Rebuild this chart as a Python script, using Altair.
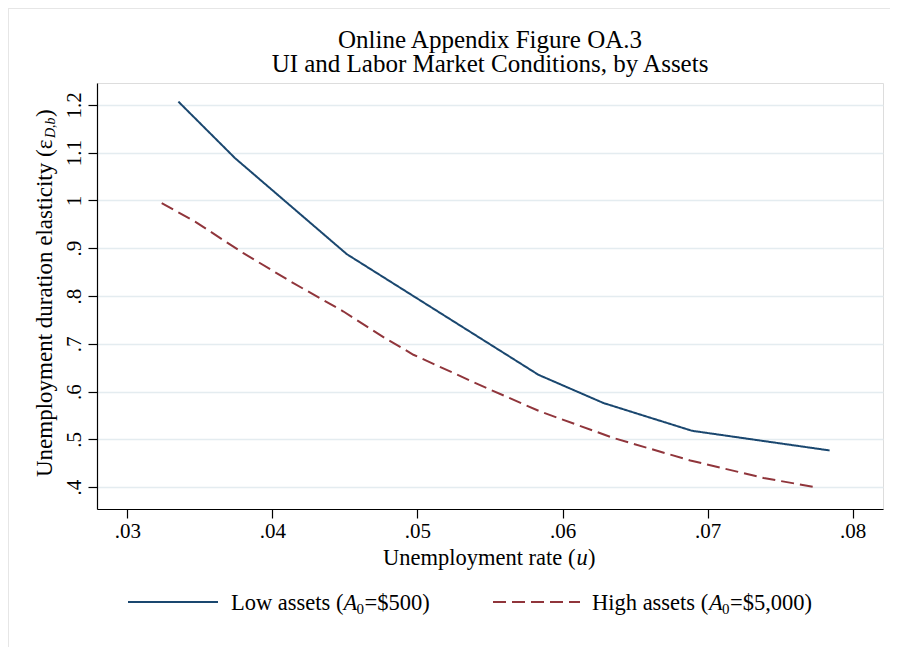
import altair as alt
import pandas as pd

# ---- data ----
low_u = [0.03352, 0.03743, 0.04513, 0.05834, 0.06283, 0.06892, 0.07841]
low_e = [1.207, 1.0885, 0.8876, 0.635, 0.5758, 0.5178, 0.4766]
high_u = [0.03237, 0.03467, 0.0380, 0.04145, 0.0449, 0.04777, 0.04972, 0.05467,
          0.05846, 0.06352, 0.06881, 0.07386, 0.07738]
high_e = [0.9943, 0.9558, 0.8897, 0.8269, 0.7675, 0.7118, 0.677, 0.6085,
          0.5582, 0.5026, 0.4557, 0.4189, 0.4000]
series_names = ["Low assets", "High assets"]
x_ticks = [0.03, 0.04, 0.05, 0.06, 0.07, 0.08]
y_ticks = [0.4, 0.5, 0.6, 0.7, 0.8, 0.9, 1.0, 1.1, 1.2]
title_lines = ["Online Appendix Figure OA.3", "UI and Labor Market Conditions, by Assets"]

df = pd.concat([
    pd.DataFrame({"u": low_u, "e": low_e, "series": series_names[0]}),
    pd.DataFrame({"u": high_u, "e": high_e, "series": series_names[1]}),
])

FONT = "Liberation Serif"
NAVY = "#1a476f"
MAROON = "#90353b"
one = pd.DataFrame({"k": [0]})

lines = alt.Chart(df).mark_line(strokeWidth=2).encode(
    x=alt.X("u:Q", scale=alt.Scale(domain=[0.02791, 0.08209], nice=False, zero=False),
            axis=alt.Axis(values=x_ticks, title=None, grid=False,
                          labelExpr="'.' + format(round(datum.value*100), '02d')",
                          labelFontSize=21, labelFont=FONT, labelColor="black",
                          labelPadding=2, tickSize=9, tickColor="black", tickWidth=1.2,
                          domainColor="black", domainWidth=1.2)),
    y=alt.Y("e:Q", scale=alt.Scale(domain=[0.354, 1.246], nice=False, zero=False),
            axis=alt.Axis(values=y_ticks, title=None, grid=True, gridColor="#e4ecf0",
                          gridWidth=1.6,
                          labelExpr="datum.value < 0.999 ? '.' + format(round(datum.value*10), 'd') : format(datum.value, '~g')",
                          labelFontSize=21, labelFont=FONT, labelColor="black",
                          labelAngle=270, labelAlign="center", labelBaseline="bottom",
                          labelPadding=4, tickSize=9, tickColor="black", tickWidth=1.2,
                          domainColor="black", domainWidth=1.2)),
    color=alt.Color("series:N", scale=alt.Scale(domain=series_names, range=[NAVY, MAROON]), legend=None),
    strokeDash=alt.StrokeDash("series:N", scale=alt.Scale(domain=series_names, range=[[1, 0], [13, 6]]), legend=None),
)


def txt(s, x, y, size=22.5, style="normal", align="left", angle=0, baseline="alphabetic"):
    return alt.Chart(one).mark_text(text=s, font=FONT, fontSize=size, fontStyle=style,
                                    align=align, baseline=baseline, angle=angle,
                                    color="black").encode(x=alt.value(x), y=alt.value(y))


def rule(x1, x2, y1, y2, color, dash=None, width=2):
    kw = dict(color=color, strokeWidth=width)
    if dash:
        kw["strokeDash"] = dash
    return alt.Chart(one).mark_rule(**kw).encode(
        x=alt.value(x1), x2=alt.value(x2), y=alt.value(y1), y2=alt.value(y2))


annotations = [
    # outer frame
    rule(-88.5, -88.5, -75, 570, "#e6e6e6", width=1),
    rule(-88.5, 805, -74.5, -74.5, "#e6e6e6", width=1),
    # title (two lines)
    txt(title_lines[0], 393, -35.5, size=25, align="center"),
    txt(title_lines[1], 393, -11.5, size=25, align="center"),
    # x-axis title
    txt("Unemployment rate (", 286, 482),
    txt("u", 479.5, 482, style="italic"),
    txt(")", 491, 482),
    # y-axis title (rotated)
    txt("Unemployment duration elasticity (\u03b5", -52, 394, size=23, angle=270, baseline="middle"),
    txt("D,b", -46, 55, size=14, style="italic", angle=270, baseline="middle"),
    txt(")", -52, 34, size=23, angle=270, baseline="middle"),
    # legend
    rule(31, 121, 519, 519, NAVY),
    txt("Low assets (", 134, 527),
    txt("A", 246.5, 527, style="italic"),
    txt("0", 259.5, 531, size=15),
    txt("=$500)", 267.5, 527),
    rule(396, 483, 519, 519, MAROON, dash=[13, 6]),
    txt("High assets (", 495, 527),
    txt("A", 612, 527, style="italic"),
    txt("0", 625, 531, size=15),
    txt("=$5,000)", 633, 527),
]

chart = alt.layer(lines, *annotations).properties(
    width=786, height=426,
    padding={"left": 89, "top": 75, "right": 7, "bottom": 138},
    autosize=alt.AutoSizeParams(type="none"),
).configure_view(stroke=None).configure(background="white")

chart.save("out.html", embed_options={"renderer": "svg", "actions": False})
